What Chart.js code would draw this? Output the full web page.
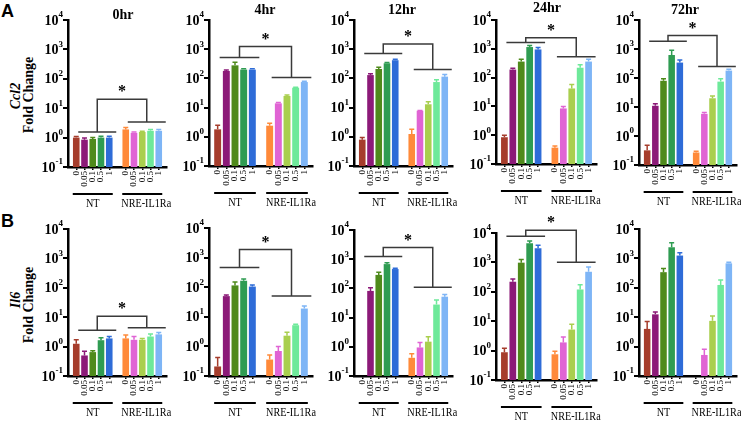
<!DOCTYPE html>
<html>
<head>
<meta charset="utf-8">
<script src="https://cdn.jsdelivr.net/npm/chart.js@4.4.0/dist/chart.umd.min.js"></script>
<style>
    body { margin: 0; background: #fff; width: 741px; height: 421px; overflow: hidden; position: relative; }
    canvas { position: absolute; left: 0; top: 0; }
    .letter { position: absolute; font: bold 18px 'Liberation Sans', Arial, sans-serif; }
    .ytitle { position: absolute; font: bold 14px 'Liberation Serif', 'Times New Roman', serif; white-space: nowrap;
              transform: translate(-50%, -50%) rotate(-90deg); }
    .gene { font-style: italic; }
</style>
</head>
<body>
<div class="letter" style="left:1px;top:1px">A</div>
<div class="letter" style="left:1px;top:211px">B</div>
<div class="ytitle gene" style="left:16px;top:96px">Ccl2</div>
<div class="ytitle" style="left:29px;top:95px">Fold Change</div>
<div class="ytitle gene" style="left:16px;top:300px">Il6</div>
<div class="ytitle" style="left:29px;top:305px">Fold Change</div>

<script>
    const doses = ['0', '0.05', '0.1', '0.5', '1'];
    const groupNames = ['NT', 'NRE-IL1Ra'];
    const timepoints = ['0hr', '4hr', '12hr', '24hr', '72hr'];
    const yTickValues = [0.1, 1, 10, 100, 1000, 10000];
    const yTickExponents = ['-1', '0', '1', '2', '3', '4'];

    // Ccl2 fold change (rows = timepoints, cols = doses)
    const ccl2NT = [
        [1.0, 0.85, 0.9, 1.0, 1.0],
        [1.8, 180, 280, 200, 200],
        [0.8, 130, 210, 330, 420],
        [0.85, 190, 360, 1150, 950],
        [0.32, 11, 80, 620, 340]
    ];
    const ccl2NTErr = [
        [0.08, 0.12, 0.1, 0.12, 0.12],
        [0.7, 15, 80, 15, 15],
        [0.15, 15, 30, 20, 30],
        [0.15, 20, 70, 150, 150],
        [0.16, 2, 15, 280, 80]
    ];
    const ccl2NRE = [
        [1.9, 1.45, 1.55, 1.7, 1.7],
        [2.4, 14, 25, 48, 75],
        [1.25, 7.8, 13, 75, 115],
        [0.37, 8.5, 42, 220, 360],
        [0.27, 5.8, 20, 75, 180]
    ];
    const ccl2NREErr = [
        [0.3, 0.1, 0.1, 0.2, 0.2],
        [0.5, 1, 2, 2, 5],
        [0.55, 0.2, 3, 15, 20],
        [0.05, 1.5, 16, 60, 70],
        [0.03, 0.7, 4, 20, 20]
    ];

    // Il6 fold change
    const il6NT = [
        [1.25, 0.5, 0.65, 1.65, 1.9],
        [0.21, 50, 115, 165, 105],
        [null, 82, 290, 680, 460],
        [0.88, 220, 980, 4500, 3000],
        [4.0, 12.5, 340, 2400, 1250]
    ];
    const il6NTErr = [
        [0.45, 0.2, 0.07, 0.35, 0.3],
        [0.21, 5, 35, 25, 13],
        [null, 23, 70, 80, 30],
        [0.32, 50, 270, 800, 800],
        [3.2, 2.5, 110, 1000, 300]
    ];
    const il6NRE = [
        [1.9, 1.7, 1.7, 2.2, 2.6],
        [0.36, 0.7, 2.3, 5.2, 19],
        [0.42, 0.95, 1.5, 28, 52],
        [0.75, 1.9, 5.2, 120, 480],
        [null, 0.52, 7.5, 125, 680]
    ];
    const il6NREErr = [
        [0.6, 0.5, 0.2, 0.5, 0.4],
        [0.15, 0.3, 0.7, 0.4, 4],
        [0.16, 0.45, 0.7, 12, 10],
        [0.2, 1.0, 2.6, 55, 220],
        [null, 0.3, 3.5, 60, 60]
    ];

    // significance brackets: [NT bar level, NRE bar level, top level]
    const ccl2Brackets = [[1.56, 3.4, 20], [520, 108, 1230], [710, 200, 1520], [1660, 525, 2400], [1850, 250, 2900]];
    const il6Brackets = [[3.6, 4.4, 10.8], [460, 50, 1860], [1230, 109, 2500], [7800, 1020, 12400], null];

    const ntColors = ['#A63D2C', '#8C1A78', '#4F8A1B', '#2F9C52', '#2E6CD8'];
    const nreColors = ['#FF8A3A', '#E064D4', '#A9CF4E', '#6EE99A', '#7EB5F6'];

    // layout of the 5 x 2 panels (page pixels)
    const axisLeft = [68, 209, 354, 496, 639];
    const axisRight = [167, 313, 453, 597, 737];
    const rowTop = [[20, 20, 20, 20, 20], [229, 228, 230, 233, 229]];
    const rowBottom = [[167, 166, 166, 164, 165], [376, 376, 376, 380, 376]];
    const titleX = [123, 265, 402, 547, 685];
    const titleY = [15, 10, 10, 8, 10];
    const canvasW = 790, canvasH = 421; // wider than the page so the last panel isn't squeezed

    const serif = "'Liberation Serif', 'Times New Roman', serif";
    Chart.defaults.font.family = serif;
    Chart.defaults.color = '#000';

    const categories = [''].concat(doses, [''], doses, ['']);
    const panelInfo = {};

    // error bars, tick labels, group lines, brackets, titles
    const extras = {
        id: 'panelExtras',
        afterDraw(chart) {
            const info = panelInfo[chart.canvas.id];
            if (!info) return;
            const ctx = chart.ctx;
            const area = chart.chartArea;
            const ys = chart.scales.y;
            const bars = chart.getDatasetMeta(0).data;
            ctx.save();

            // upper error bars
            info.values.forEach((v, i) => {
                if (v === null || info.errors[i] === null) return;
                const b = bars[i];
                const yTop = ys.getPixelForValue(v + info.errors[i]);
                ctx.strokeStyle = info.colors[i];
                ctx.lineWidth = 1.5;
                ctx.beginPath();
                ctx.moveTo(b.x, b.y);
                ctx.lineTo(b.x, yTop);
                ctx.moveTo(b.x - 2.5, yTop);
                ctx.lineTo(b.x + 2.5, yTop);
                ctx.stroke();
            });

            // y tick labels 10^n
            ctx.fillStyle = '#000';
            ctx.textBaseline = 'middle';
            yTickValues.forEach((v, i) => {
                const py = ys.getPixelForValue(v);
                ctx.font = 'bold 9px ' + serif;
                const ew = ctx.measureText(yTickExponents[i]).width;
                const ex = area.left - 5 - ew;
                ctx.textAlign = 'left';
                ctx.fillText(yTickExponents[i], ex, py - 5);
                ctx.font = 'bold 14px ' + serif;
                ctx.textAlign = 'right';
                ctx.fillText('10', ex, py + 1);
            });

            // group lines and labels under the axis
            const gy = area.bottom + 27;
            [[1, 5], [7, 11]].forEach((g, k) => {
                const x0 = bars[g[0]].x - 3.5, x1 = bars[g[1]].x + 3.5;
                ctx.strokeStyle = '#000';
                ctx.lineWidth = 2;
                ctx.beginPath();
                ctx.moveTo(x0, gy);
                ctx.lineTo(x1, gy);
                ctx.stroke();
                // labels in the reference are a bit condensed
                ctx.save();
                ctx.translate((x0 + x1) / 2 + (k ? 4 : 0), gy + 10);
                ctx.scale(0.85, 1);
                ctx.font = '12px ' + serif;
                ctx.textAlign = 'center';
                ctx.fillText(groupNames[k], 0, 0);
                ctx.restore();
            });

            // significance bracket
            if (info.bracket) {
                const [ntLv, nreLv, topLv] = info.bracket;
                const a0 = bars[1].x + 2, a1 = bars[5].x + 7;
                const b0 = bars[7].x + 2, b1 = bars[11].x + 7;
                const yA = ys.getPixelForValue(ntLv), yB = ys.getPixelForValue(nreLv), yT = ys.getPixelForValue(topLv);
                const ca = (a0 + a1) / 2, cb = (b0 + b1) / 2;
                ctx.strokeStyle = '#3a3a3a';
                ctx.lineWidth = 1.5;
                ctx.beginPath();
                ctx.moveTo(a0, yA); ctx.lineTo(a1, yA);
                ctx.moveTo(b0, yB); ctx.lineTo(b1, yB);
                ctx.moveTo(ca, yA); ctx.lineTo(ca, yT); ctx.lineTo(cb, yT); ctx.lineTo(cb, yB);
                ctx.stroke();
                ctx.font = 'bold 16px ' + serif;
                ctx.textAlign = 'center';
                ctx.fillText('*', (ca + cb) / 2, yT - 7);
            }

            // column title
            if (info.title) {
                ctx.font = 'bold 14px ' + serif;
                ctx.textAlign = 'center';
                ctx.fillText(info.title, info.titleX, info.titleY);
            }
            ctx.restore();
        }
    };

    function makePanel(row, col, nt, ntErr, nre, nreErr, bracket) {
        const id = 'p' + row + col;
        const canvas = document.createElement('canvas');
        canvas.id = id;
        canvas.width = canvasW;
        canvas.height = canvasH;
        document.body.appendChild(canvas);

        const values = [null].concat(nt, [null], nre, [null]);
        panelInfo[id] = {
            values: values,
            errors: [null].concat(ntErr, [null], nreErr, [null]),
            colors: ['#000'].concat(ntColors, ['#000'], nreColors, ['#000']),
            bracket: bracket,
            title: row === 0 ? timepoints[col] : null,
            titleX: titleX[col],
            titleY: titleY[col]
        };

        const target = { left: axisLeft[col], right: axisRight[col], top: rowTop[row][col], bottom: rowBottom[row][col] };
        let pad = { left: target.left - 5, right: canvasW - target.right, top: target.top, bottom: canvasH - target.bottom - 24 };

        const chart = new Chart(canvas, {
            type: 'bar',
            data: {
                labels: categories,
                datasets: [{
                    data: values,
                    backgroundColor: panelInfo[id].colors,
                    borderWidth: 0,
                    barPercentage: 0.8,
                    categoryPercentage: 1
                }]
            },
            options: {
                responsive: false,
                animation: false,
                layout: { padding: pad },
                plugins: { legend: { display: false }, tooltip: { enabled: false } },
                scales: {
                    x: {
                        offset: false,
                        grid: {
                            offset: false,
                            drawOnChartArea: false,
                            tickLength: 3,
                            lineWidth: 1.5,
                            tickColor: c => (c.tick && c.tick.label) ? '#000' : 'rgba(0,0,0,0)'
                        },
                        border: { color: '#000', width: 2.5 },
                        ticks: { autoSkip: false, minRotation: 90, maxRotation: 90, padding: 1, font: { size: 9 } }
                    },
                    y: {
                        type: 'logarithmic',
                        min: 0.1,
                        max: 10000,
                        afterBuildTicks: s => { s.ticks = yTickValues.map(v => ({ value: v })); },
                        grid: { drawOnChartArea: false, tickLength: 5, lineWidth: 2, color: '#000' },
                        border: { color: '#000', width: 2.5 },
                        ticks: { display: false }
                    }
                }
            },
            plugins: [extras]
        });

        // nudge padding so the plot area lands where the reference has it
        for (let k = 0; k < 3; k++) {
            const a = chart.chartArea;
            pad = {
                left: pad.left + target.left - a.left,
                right: pad.right + a.right - target.right,
                top: pad.top + target.top - a.top,
                bottom: pad.bottom + a.bottom - target.bottom
            };
            chart.options.layout.padding = pad;
            chart.update('none');
        }
    }

    for (let c = 0; c < 5; c++) {
        makePanel(0, c, ccl2NT[c], ccl2NTErr[c], ccl2NRE[c], ccl2NREErr[c], ccl2Brackets[c]);
        makePanel(1, c, il6NT[c], il6NTErr[c], il6NRE[c], il6NREErr[c], il6Brackets[c]);
    }
</script>
</body>
</html>
